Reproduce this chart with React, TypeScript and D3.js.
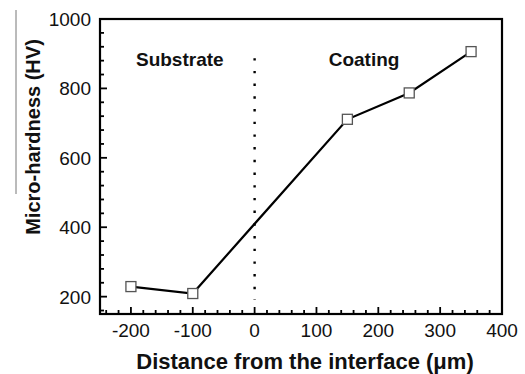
import React from "react";
import * as d3 from "d3";

const distances = [-200, -100, 150, 250, 350];
const hardness = [229, 209, 711, 787, 906];
const xTickValues = [-200, -100, 0, 100, 200, 300, 400];
const yTickValues = [200, 400, 600, 800, 1000];
const regionLabels = ["Substrate", "Coating"];
const regionLabelX = [-121, 177];
const interfaceLine = [887, 190];

const W = 525;
const H = 374;
const left = 100;
const right = 502;
const top = 19;
const bottom = 314;
const FONT = "Liberation Sans, Arial, Helvetica, sans-serif";

export default function App() {
  const x = d3.scaleLinear().domain([-250, 400]).range([left, right]);
  const y = d3.scaleLinear().domain([150, 1000]).range([bottom, top]);
  const pts = distances.map((d, i) => [d, hardness[i]] as [number, number]);
  const line = d3
    .line<[number, number]>()
    .x((d) => x(d[0]))
    .y((d) => y(d[1]));
  const xMinor = d3.range(-240, 400, 20).filter((v) => !xTickValues.includes(v));
  const yMinor = d3.range(160, 1000, 40).filter((v) => !yTickValues.includes(v));
  const s = 10;
  return (
    <svg
      width={W}
      height={H}
      style={{ position: "absolute", left: 0, top: 0, background: "#fff" }}
      fontFamily={FONT}
    >
      <rect width={W} height={H} fill="#fff" />
      {xTickValues.map((v) => (
        <line key={"xt" + v} x1={x(v)} x2={x(v)} y1={bottom} y2={bottom - 7} stroke="#000" strokeWidth={1.8} />
      ))}
      {xMinor.map((v) => (
        <line key={"xm" + v} x1={x(v)} x2={x(v)} y1={bottom} y2={bottom - 4} stroke="#000" strokeWidth={1.8} />
      ))}
      {yTickValues.map((v) => (
        <line key={"yt" + v} x1={left} x2={left + 7} y1={y(v)} y2={y(v)} stroke="#000" strokeWidth={1.8} />
      ))}
      {yMinor.map((v) => (
        <line key={"ym" + v} x1={left} x2={left + 4} y1={y(v)} y2={y(v)} stroke="#000" strokeWidth={1.8} />
      ))}
      <rect x={left} y={top} width={right - left} height={bottom - top} fill="none" stroke="#000" strokeWidth={2.2} />
      {xTickValues.map((v) => (
        <text key={"xl" + v} x={x(v)} y={337} textAnchor="middle" fontSize={19} fill="#111">
          {v}
        </text>
      ))}
      {yTickValues.map((v) => (
        <text key={"yl" + v} x={91} y={y(v) + 7} textAnchor="end" fontSize={19} fill="#111">
          {v}
        </text>
      ))}
      <line
        x1={x(0)}
        x2={x(0)}
        y1={y(interfaceLine[0])}
        y2={y(interfaceLine[1])}
        stroke="#000"
        strokeWidth={2.4}
        strokeDasharray="2.4 10.3"
      />
      {regionLabels.map((t, i) => (
        <text key={t} x={x(regionLabelX[i])} y={66} textAnchor="middle" fontSize={19} fontWeight="bold" fill="#111">
          {t}
        </text>
      ))}
      <path d={line(pts) || ""} fill="none" stroke="#000" strokeWidth={2.2} />
      {pts.map((p, i) => (
        <rect
          key={"m" + i}
          x={x(p[0]) - s / 2}
          y={y(p[1]) - s / 2}
          width={s}
          height={s}
          fill="#fff"
          stroke="#555"
          strokeWidth={1.3}
        />
      ))}
      <text x={305} y={369} textAnchor="middle" fontSize={22} fontWeight="bold" fill="#111">
        Distance from the interface (μm)
      </text>
      <text
        transform={`translate(40,137) rotate(-90)`}
        textAnchor="middle"
        fontSize={20}
        fontWeight="bold"
        fill="#111"
      >
        Micro-hardness (HV)
      </text>
      <line x1={16} x2={16} y1={10} y2={194} stroke="#777" strokeWidth={1} />
    </svg>
  );
}
